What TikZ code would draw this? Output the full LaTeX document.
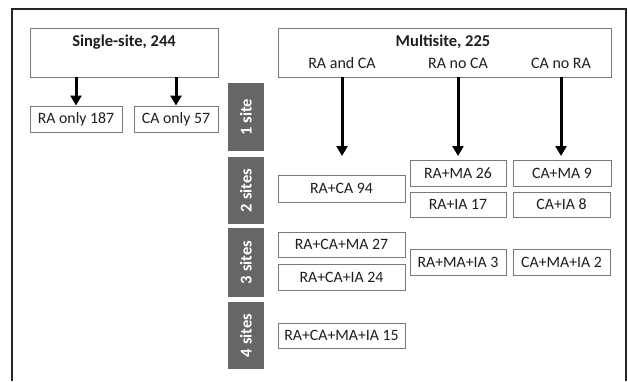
\documentclass[tikz,border=0pt]{standalone}
\usepackage{fontspec}
\setmainfont{Carlito}
\usetikzlibrary{arrows.meta}
\definecolor{txt}{HTML}{1E1E1E}
\definecolor{bd}{HTML}{7A7A7A}
\definecolor{tab}{HTML}{666666}
\begin{document}
\begin{tikzpicture}[x=1pt,y=-1pt,
  box/.style={draw=bd,line width=0.9pt,fill=white,inner sep=0pt,text=txt,font=\fontsize{15.8}{18}\selectfont},
  tabbox/.style={fill=tab,inner sep=0pt,minimum width=36pt,text=white,font=\bfseries\fontsize{16.5}{18}\selectfont},
  ttl/.style={inner sep=0pt,text=txt,font=\bfseries\fontsize{16.5}{19}\selectfont},
  sub/.style={inner sep=0pt,text=txt,font=\fontsize{16}{18}\selectfont},
  arr/.style={line width=3pt,-{Triangle[width=11pt,length=10pt]}}]
\useasboundingbox (0,0) rectangle (628,381);
\draw[line width=1.4pt,draw=black!85] (12,381) -- (12,9) -- (626,9) -- (626,381);
% single-site
\node[box,minimum width=188pt,minimum height=49pt] (single) at (124,52.5) {};
\node[ttl] (singlet) at (124,42) {Single-site, 244};
\node[box,minimum width=92pt,minimum height=26pt] (ra) at (76,119) {RA only 187};
\node[box,minimum width=84pt,minimum height=26pt] (ca) at (176,119) {CA only 57};
\draw[arr] (ra.north |- single.south) -- (ra.north);
\draw[arr] (ca.north |- single.south) -- (ca.north);
% tabs
\node[tabbox,minimum height=68pt] (t1) at (246,117) {\rotatebox{90}{1 site}};
\node[tabbox,minimum height=67pt] (t2) at (246,190.5) {\rotatebox{90}{2 sites}};
\node[tabbox,minimum height=69pt] (t3) at (246,262.5) {\rotatebox{90}{3 sites}};
\node[tabbox,minimum height=67pt] (t4) at (246,335.5) {\rotatebox{90}{4 sites}};
% multisite
\node[box,minimum width=333pt,minimum height=49pt] (multi) at (444.5,52.5) {};
\node[ttl] (multit) at (443,42) {Multisite, 225};
\node[sub] (s1) at (342,63) {RA and CA};
\node[sub] (s2) at (458,63) {RA no CA};
\node[sub] (s3) at (561,63) {CA no RA};
\coordinate (e1) at (342,156);
\coordinate (e2) at (458,156);
\coordinate (e3) at (561,156);
\draw[arr] (e1 |- multi.south) -- (e1);
\draw[arr] (e2 |- multi.south) -- (e2);
\draw[arr] (e3 |- multi.south) -- (e3);
% 2 sites
\node[box,minimum width=127pt,minimum height=27pt] (raca) at (341.5,188.5) {RA+CA 94};
\node[box,minimum width=96pt,minimum height=26pt] (rama) at (458,173) {RA+MA 26};
\node[box,minimum width=98pt,minimum height=26pt] (cama) at (562,173) {CA+MA 9};
\node[box,minimum width=96pt,minimum height=25pt] (raia) at (458,204.5) {RA+IA 17};
\node[box,minimum width=97pt,minimum height=25pt] (caia) at (561.5,204.5) {CA+IA 8};
% 3 sites
\node[box,minimum width=127pt,minimum height=25pt] (racama) at (341.5,244.5) {RA+CA+MA 27};
\node[box,minimum width=127pt,minimum height=26pt] (racaia) at (341.5,277) {RA+CA+IA 24};
\node[box,minimum width=96pt,minimum height=26pt] (ramaia) at (458,262) {RA+MA+IA 3};
\node[box,minimum width=97pt,minimum height=26pt] (camaia) at (561.5,262) {CA+MA+IA 2};
% 4 sites
\node[box,minimum width=127pt,minimum height=25pt] (all) at (341.5,335.5) {RA+CA+MA+IA 15};
\end{tikzpicture}
\end{document}
